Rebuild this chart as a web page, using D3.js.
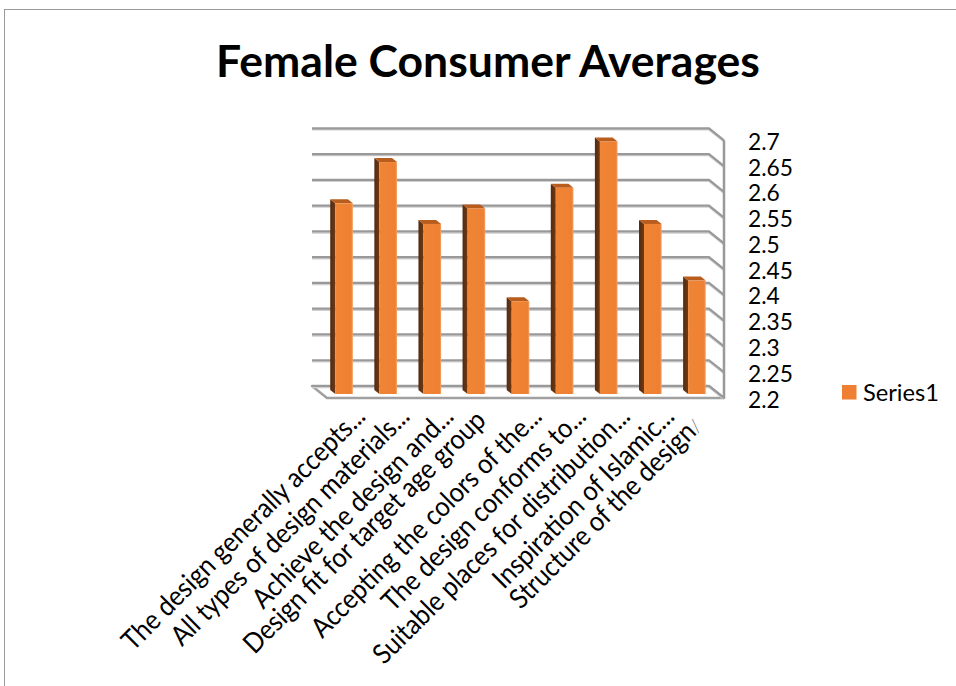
<!DOCTYPE html>
<html><head><meta charset="utf-8">
<script src="https://cdn.jsdelivr.net/npm/d3@7/dist/d3.min.js"></script>
<style>html,body{margin:0;padding:0;background:#fff;}svg{display:block;}</style>
</head><body>
<svg id="c" width="956" height="686"></svg>
<script>
const title = "Female Consumer Averages";
const categories = [
  "The design generally accepts...",
  "All types of design materials...",
  "Achieve the design and...",
  "Design fit for target age group",
  "Accepting the colors of the...",
  "The design conforms to...",
  "Suitable places for distribution...",
  "Inspiration of Islamic...",
  "Structure of the design/"
];
const values = [2.57, 2.65, 2.53, 2.56, 2.38, 2.60, 2.69, 2.53, 2.42];
const yTicks = [2.2, 2.25, 2.3, 2.35, 2.4, 2.45, 2.5, 2.55, 2.6, 2.65, 2.7];
const seriesName = "Series1";

const FONT = "Lato, 'Open Sans', sans-serif";
const svg = d3.select("#c");

// chart border
svg.append("rect").attr("x", 4.5).attr("y", 9.5).attr("width", 1000).attr("height", 1000)
  .attr("fill", "none").attr("stroke", "#9a9a9a").attr("stroke-width", 1);

// geometry of back wall
const back = {x0: 312, x1: 709, yBottom: 386, yTop: 128.3};
const DX = 15, DY = 12; // depth offset to front

const x = d3.scaleBand().domain(categories).range([back.x0, back.x1]).paddingInner(0.6).paddingOuter(0.3);
const y = d3.scaleLinear().domain([2.2, 2.7]).range([back.yBottom, back.yTop]);

function fit(sel, target) {
  sel.attr("font-size", 100);
  const w = sel.node().getComputedTextLength();
  sel.attr("font-size", 100 * target / w);
}

// Title
const t = svg.append("text").attr("x", 488).attr("y", 77).attr("text-anchor", "middle")
  .attr("font-family", FONT).attr("font-weight", "bold").attr("fill", "#000").text(title);
fit(t, 544);

// floor
const floor = [[back.x0, back.yBottom], [back.x1, back.yBottom], [back.x1 + DX, back.yBottom + DY], [back.x0 + DX, back.yBottom + DY]];
svg.append("polygon").attr("points", floor.map(p => p.join(",")).join(" "))
  .attr("fill", "#fff").attr("stroke", "#a0a0a0").attr("stroke-width", 2.5).attr("stroke-linejoin", "round");

// gridlines (back wall + side wall)
const g = svg.append("g");
yTicks.forEach(v => {
  const yy = y(v);
  const pts = [[back.x0, yy], [back.x1, yy], [back.x1 + DX, yy + DY]];
  g.append("polyline").attr("points", pts.map(p => [p[0], p[1] + 1.5].join(",")).join(" "))
    .attr("fill", "none").attr("stroke", "#cfcfcf").attr("stroke-width", 1.5);
  g.append("polyline").attr("points", pts.map(p => p.join(",")).join(" "))
    .attr("fill", "none").attr("stroke", "#999").attr("stroke-width", 2.2);
});
// right front vertical edge
svg.append("line").attr("x1", back.x1 + DX).attr("x2", back.x1 + DX)
  .attr("y1", y(2.7) + DY).attr("y2", back.yBottom + DY)
  .attr("stroke", "#999").attr("stroke-width", 2.5);

// bars
const defs = svg.append("defs");
const gf = defs.append("linearGradient").attr("id", "front").attr("x1", 0).attr("x2", 1).attr("y1", 0).attr("y2", 0);
gf.append("stop").attr("offset", 0).attr("stop-color", "#f08535");
gf.append("stop").attr("offset", 0.9).attr("stop-color", "#ee8033");
gf.append("stop").attr("offset", 1).attr("stop-color", "#f4a56c");
const gs = defs.append("linearGradient").attr("id", "side").attr("x1", 0).attr("x2", 1).attr("y1", 0).attr("y2", 0);
gs.append("stop").attr("offset", 0).attr("stop-color", "#55290e");
gs.append("stop").attr("offset", 1).attr("stop-color", "#6e3a15");

const bw = x.bandwidth();
const bf = 2/3, bb = 1/3; // front/back depth fractions of bars
const bars = svg.append("g").selectAll("g").data(values).join("g");
bars.each(function(v, i) {
  const gx = d3.select(this);
  const x0 = x(categories[i]);
  const yt = y(v), yb = y(2.2);
  const fx = DX * bf, fy = DY * bf, kx = DX * bb, ky = DY * bb;
  gx.append("polygon").attr("points", [[x0 + kx, yt + ky], [x0 + fx, yt + fy], [x0 + fx, yb + fy], [x0 + kx, yb + ky]].map(p => p.join(",")).join(" "))
    .attr("fill", "url(#side)");
  gx.append("polygon").attr("points", [[x0 + kx, yt + ky], [x0 + kx + bw, yt + ky], [x0 + fx + bw, yt + fy], [x0 + fx, yt + fy]].map(p => p.join(",")).join(" "))
    .attr("fill", "#b95d1f");
  gx.append("rect").attr("x", x0 + fx).attr("y", yt + fy).attr("width", bw).attr("height", yb - yt)
    .attr("fill", "url(#front)");
});

// y tick labels
const tl = svg.append("g").selectAll("text").data(yTicks).join("text")
  .attr("x", 748).attr("y", d => y(d) + DY + 1).attr("dominant-baseline", "central")
  .attr("font-family", FONT).attr("fill", "#000").text(d => d3.format("")(d));
{
  const ref = tl.filter(d => d === 2.65);
  fit(ref, 45);
  tl.attr("font-size", ref.attr("font-size"));
}

// category labels
const cl = svg.append("g").selectAll("text").data(categories).join("text")
  .attr("text-anchor", "end").attr("font-family", FONT).attr("fill", "#000");
cl.each(function(d) {
  const s = d3.select(this);
  if (d.endsWith("/")) {
    s.append("tspan").text(d.slice(0, -1));
    s.append("tspan").attr("font-weight", 300).attr("fill", "#555").attr("font-size", "0.7em").text("/");
  } else {
    s.text(d);
  }
});
{
  const ref = cl.filter((d, i) => i === 0);
  fit(ref, 331);
  cl.attr("font-size", ref.attr("font-size"));
}
cl.attr("transform", (d, i) => {
  const truncated = d.endsWith("...");
  let ax = x(d) + bw / 2 + 33, ay = 418;
  if (!truncated) { ax -= 12; ay += 4; }
  if (d.endsWith("/")) { ax -= 5; ay += 6; }
  return `translate(${ax},${ay}) rotate(-45) scale(1,1.1)`;
});

// legend
svg.append("rect").attr("x", 842).attr("y", 385).attr("width", 14.5).attr("height", 14.5).attr("fill", "#ef7f32");
const lt = svg.append("text").attr("x", 863).attr("y", 400.5).attr("font-family", FONT).attr("fill", "#000").text(seriesName);
fit(lt, 76);
</script>
</body></html>
